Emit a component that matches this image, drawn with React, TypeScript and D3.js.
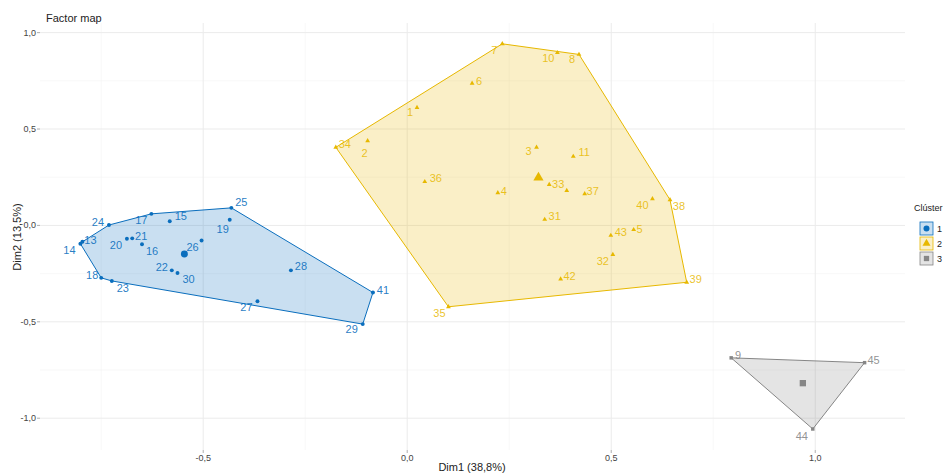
import React from 'react';
import * as d3 from 'd3';

// ---------- data ----------
const clusterIds = ['1', '2', '3'];
const clusterColors = ['#0A6EBD', '#E7B800', '#868686'];

const c1Names = ['14', '13', '24', '17', '15', '25', '19', '20', '21', '16', '26', '22', '30', '28', '18', '23', '27', '41', '29'];
const c1Dim1 = [-0.801, -0.796, -0.731, -0.627, -0.582, -0.431, -0.435, -0.687, -0.674, -0.65, -0.504, -0.577, -0.563, -0.285, -0.75, -0.724, -0.367, -0.084, -0.109];
const c1Dim2 = [-0.095, -0.085, 0.002, 0.06, 0.022, 0.091, 0.029, -0.069, -0.067, -0.098, -0.078, -0.233, -0.247, -0.233, -0.272, -0.288, -0.393, -0.348, -0.512];

const c2Names = ['7', '10', '8', '6', '1', '34', '2', '3', '11', '36', '4', '33', '12', '37', '31', '40', '38', '5', '43', '32', '42', '39', '35'];
const c2Dim1 = [0.233, 0.368, 0.421, 0.159, 0.024, -0.175, -0.097, 0.317, 0.407, 0.043, 0.222, 0.348, 0.391, 0.435, 0.337, 0.601, 0.644, 0.555, 0.499, 0.504, 0.376, 0.685, 0.101];
const c2Dim2 = [0.942, 0.896, 0.887, 0.737, 0.611, 0.405, 0.439, 0.405, 0.358, 0.227, 0.169, 0.212, 0.181, 0.164, 0.031, 0.138, 0.133, -0.022, -0.052, -0.151, -0.278, -0.295, -0.422];

const c3Names = ['9', '45', '44'];
const c3Dim1 = [0.794, 1.121, 0.994];
const c3Dim2 = [-0.687, -0.712, -1.056];

// labels hidden by repel (not drawn)
const c2Hidden = ['12'];

const xTicks = [-0.5, 0, 0.5, 1.0];
const yTicks = [-1.0, -0.5, 0, 0.5, 1.0];
const xMinor = [-0.75, -0.25, 0.25, 0.75];
const yMinor = [-0.75, -0.25, 0.25, 0.75];

// label nudges (pixels) mimicking the repelled layout
const c1Nudge: [number, number][] = [[-11, 6], [8, -2], [-11, -3], [-10, 6], [11, -5], [10, -6], [-7, 9], [-11, 6], [9, -2], [10, 7], [-9, 7], [-10, -3], [11, 6], [10, -4], [-9, -3], [11, 7], [-11, 6], [10, -3], [-11, 5]];
const c2Nudge: [number, number][] = [[-8, 6], [-9, 5], [-7, 5], [7, -2], [-7, 4], [9, -3], [-3, 12], [-8, 4], [11, -4], [11, -4], [6, -2], [9, -1], [0, 0], [8, -3], [10, -3], [-10, 6], [9, 6], [6, -1], [10, -3], [-10, 6], [9, -3], [9, -3], [-9, 6]];
const c3Nudge: [number, number][] = [[7, -3], [9, -3], [-11, 7]];

const fmt = (v: number) => d3.format('.1f')(v).replace('.', ',').replace('−', '-');

export default function App() {
  const W = 945, H = 473;
  const x = d3.scaleLinear().domain([-0.9, 1.22]).range([40, 905]);
  const y = d3.scaleLinear().domain([-1.165, 1.05]).range([450, 23]);

  const clusters = [
    { names: c1Names, xs: c1Dim1, ys: c1Dim2, nudge: c1Nudge, shape: d3.symbolCircle },
    { names: c2Names, xs: c2Dim1, ys: c2Dim2, nudge: c2Nudge, shape: d3.symbolTriangle },
    { names: c3Names, xs: c3Dim1, ys: c3Dim2, nudge: c3Nudge, shape: d3.symbolSquare },
  ];

  const font = 'Liberation Sans, Arial, sans-serif';

  return (
    <svg width={W} height={H} style={{ position: 'absolute', left: 0, top: 0, background: '#fff' }} fontFamily={font}>
      {/* grid */}
      {xMinor.map((t) => (
        <line key={'xm' + t} x1={x(t)} x2={x(t)} y1={23} y2={450} stroke="#f4f4f4" strokeWidth={0.6} />
      ))}
      {yMinor.map((t) => (
        <line key={'ym' + t} x1={40} x2={905} y1={y(t)} y2={y(t)} stroke="#f4f4f4" strokeWidth={0.6} />
      ))}
      {xTicks.map((t) => (
        <line key={'xg' + t} x1={x(t)} x2={x(t)} y1={23} y2={450} stroke="#ebebeb" strokeWidth={1} />
      ))}
      {yTicks.map((t) => (
        <line key={'yg' + t} x1={40} x2={905} y1={y(t)} y2={y(t)} stroke="#ebebeb" strokeWidth={1} />
      ))}

      {/* axes ticks & labels */}
      {xTicks.map((t) => (
        <g key={'xt' + t}>
          <line x1={x(t)} x2={x(t)} y1={450} y2={453} stroke="#999" strokeWidth={0.8} />
          <text x={x(t)} y={461} textAnchor="middle" fontSize={9} fill="#444">{fmt(t)}</text>
        </g>
      ))}
      {yTicks.map((t) => (
        <g key={'yt' + t}>
          <line x1={37} x2={40} y1={y(t)} y2={y(t)} stroke="#999" strokeWidth={0.8} />
          <text x={36} y={y(t) + 3} textAnchor="end" fontSize={9} fill="#444">{fmt(t)}</text>
        </g>
      ))}
      <text x={472} y={471} textAnchor="middle" fontSize={11} fill="#222">Dim1 (38,8%)</text>
      <text transform={`translate(21,237) rotate(-90)`} textAnchor="middle" fontSize={11} fill="#222">Dim2 (13,5%)</text>
      <text x={46} y={22} fontSize={11} fill="#222">Factor map</text>

      {/* hulls */}
      {clusters.map((c, ci) => {
        const pts: [number, number][] = c.xs.map((v, i) => [x(v), y(c.ys[i])]);
        const hull = d3.polygonHull(pts) || pts;
        return (
          <path key={'h' + ci} d={'M' + hull.map((p) => p.join(',')).join('L') + 'Z'}
            fill={clusterColors[ci]} fillOpacity={0.22} stroke={clusterColors[ci]} strokeWidth={1} />
        );
      })}

      {/* points, labels & centers */}
      {clusters.map((c, ci) => {
        const col = clusterColors[ci];
        const small = d3.symbol().type(c.shape).size(ci === 0 ? 12 : ci === 1 ? 10 : 12)();
        const big = d3.symbol().type(c.shape).size(ci === 0 ? 38 : ci === 1 ? 45 : 40)();
        const cx = d3.mean(c.xs) as number;
        const cy = d3.mean(c.ys) as number;
        return (
          <g key={'p' + ci}>
            {c.xs.map((v, i) => (
              <path key={'pt' + i} d={small} transform={`translate(${x(v)},${y(c.ys[i])})`} fill={col} />
            ))}
            {c.xs.map((v, i) =>
              ci === 1 && c2Hidden.includes(c.names[i]) ? null : (
                <text key={'lb' + i} x={x(v) + c.nudge[i][0]} y={y(c.ys[i]) + c.nudge[i][1] + 4}
                  textAnchor="middle" fontSize={11} fill={col} fillOpacity={ci === 1 ? 0.85 : 0.9}>
                  {c.names[i]}
                </text>
              )
            )}
            <path d={big} transform={`translate(${x(cx)},${y(cy)})`} fill={col} />
          </g>
        );
      })}

      {/* legend */}
      <text x={914} y={211} fontSize={9} fill="#222">Clúster</text>
      {clusterIds.map((id, i) => {
        const ky = 222 + i * 15;
        const shape = [d3.symbolCircle, d3.symbolTriangle, d3.symbolSquare][i];
        return (
          <g key={'lg' + i}>
            <rect x={920} y={ky} width={13} height={13} fill={clusterColors[i]} fillOpacity={0.22}
              stroke={clusterColors[i]} strokeWidth={0.8} />
            <path d={d3.symbol().type(shape).size(28)()} transform={`translate(926.5,${ky + 6.5})`} fill={clusterColors[i]} />
            <text x={937} y={ky + 10} fontSize={9} fill="#222">{id}</text>
          </g>
        );
      })}
    </svg>
  );
}
